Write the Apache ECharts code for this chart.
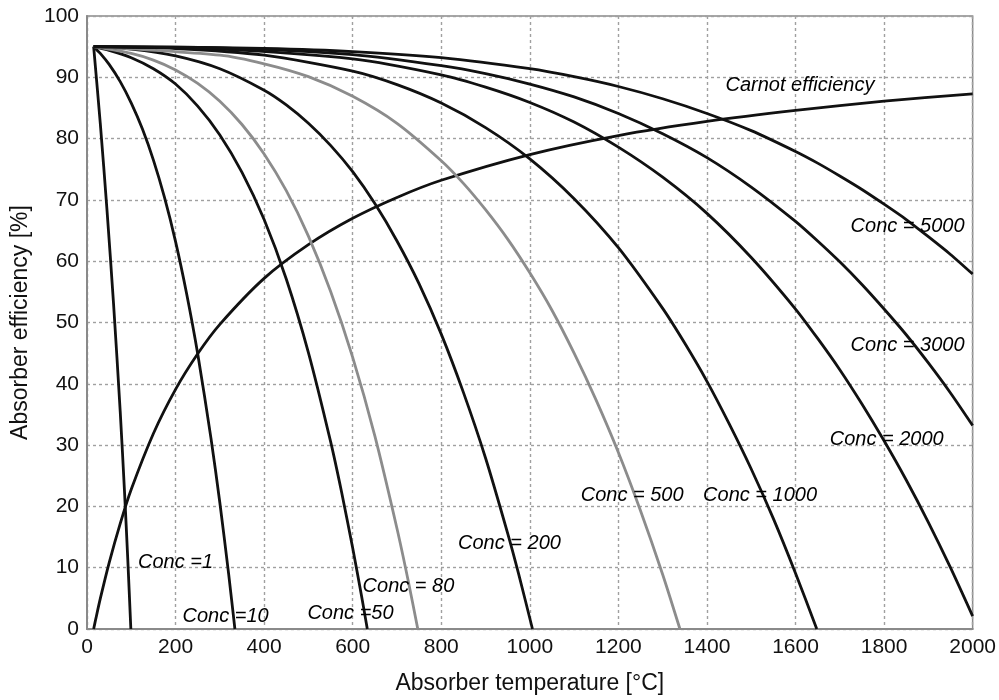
<!DOCTYPE html>
<html>
<head>
<meta charset="utf-8">
<script src="https://cdn.jsdelivr.net/npm/echarts@6/dist/echarts.min.js"></script>
<style>html,body{margin:0;padding:0;background:#fff;}#c{width:999px;height:700px;}</style>
</head>
<body>
<div id="c"></div>
<script>
// Absorber temperature [°C] vs efficiency [%]
const xTicks = [0, 200, 400, 600, 800, 1000, 1200, 1400, 1600, 1800, 2000];
const yTicks = [0, 10, 20, 30, 40, 50, 60, 70, 80, 90, 100];

const carnot = [[15,0],[20,1.7],[30,4.95],[50,10.8],[75,17.2],[100,22.8],[150,31.9],[200,39.1],[250,44.9],[300,49.7],[400,57.2],[500,62.7],[600,67.0],[700,70.4],[800,73.2],[1000,77.4],[1200,80.5],[1400,82.8],[1600,84.6],[1800,86.1],[2000,87.3]];
const conc1 = [[15,95],[30,82.5],[45,68.5],[60,53],[75,35.5],[85,22],[92,11.5],[99,0]];
const conc10 = [[15,95],[30,93.9],[50,92.1],[75,89.3],[100,85.8],[125,81.6],[150,76.5],[175,70.4],[200,63.2],[225,54.7],[250,44.9],[280,31.1],[300,20.6],[320,8.9],[334,0]];
const conc50 = [[15,95],[50,94.4],[100,93.2],[150,91.4],[200,88.9],[250,85.3],[300,80.6],[350,74.5],[400,66.8],[450,57.1],[500,45.1],[550,30.6],[575,22.3],[600,13.2],[620,5.4],[633,0]];
const conc80 = [[15,95],[100,93.9],[150,92.8],[200,91.2],[250,89.0],[300,86.1],[350,82.3],[400,77.5],[450,71.5],[500,64.1],[550,55.1],[600,44.3],[650,31.5],[700,16.4],[725,8.0],[747,0]];
const conc200 = [[15,95],[100,94.6],[200,93.5],[300,91.4],[400,87.9],[450,85.5],[500,82.5],[550,78.9],[600,74.6],[650,69.4],[700,63.3],[750,56.3],[800,48.1],[850,38.6],[900,27.9],[950,15.6],[975,8.9],[1006,0]];
const conc500 = [[15,95],[300,93.6],[400,92.2],[500,90.1],[600,86.9],[700,82.5],[800,76.4],[850,72.7],[900,68.4],[950,63.6],[1000,58.1],[1050,52.0],[1100,45.0],[1150,37.3],[1200,28.8],[1250,19.3],[1300,8.9],[1339,0]];
const conc1000 = [[15,95],[200,94.7],[400,93.6],[600,91.0],[700,88.8],[800,85.8],[900,81.8],[1000,76.7],[1100,70.2],[1200,62.2],[1300,52.3],[1350,46.6],[1400,40.4],[1450,33.5],[1500,26.1],[1550,18.0],[1600,9.1],[1648,0]];
const conc2000 = [[15,95],[300,94.6],[600,93.0],[800,90.4],[900,88.4],[1000,85.9],[1100,82.7],[1200,78.6],[1300,73.7],[1400,67.8],[1500,60.6],[1600,52.2],[1650,47.4],[1700,42.3],[1750,36.7],[1800,30.7],[1850,24.3],[1900,17.4],[1950,10.0],[2000,2.1]];
const conc3000 = [[15,95],[300,94.8],[600,93.7],[800,91.9],[900,90.6],[1000,88.9],[1100,86.8],[1200,84.1],[1300,80.8],[1400,76.9],[1500,72.1],[1600,66.5],[1650,63.3],[1700,59.9],[1750,56.2],[1800,52.2],[1850,48.0],[1900,43.4],[1950,38.5],[2000,33.2]];
const conc5000 = [[15,95],[200,94.9],[400,94.7],[600,94.2],[800,93.2],[1000,91.4],[1100,90.1],[1200,88.5],[1300,86.5],[1400,84.1],[1500,81.3],[1600,77.9],[1650,76.0],[1700,73.9],[1750,71.7],[1800,69.3],[1850,66.8],[1900,64.0],[1950,61.1],[2000,57.9]];

const annotationTexts = ['Carnot efficiency','Conc = 5000','Conc = 3000','Conc = 2000','Conc = 500','Conc = 1000','Conc = 200','Conc = 80','Conc =50','Conc =10','Conc =1'];
const annotationAt = [[1610,88.6],[1853,65.7],[1853,46.2],[1806,30.9],[1231,21.8],[1520,21.8],[954,14.0],[726,7.0],[595,2.6],[313,2.0],[200,10.9]];

const curves = [
  {name:'Carnot', data:carnot, color:'#111'},
  {name:'Conc 1', data:conc1, color:'#111'},
  {name:'Conc 10', data:conc10, color:'#111'},
  {name:'Conc 50', data:conc50, color:'#111'},
  {name:'Conc 80', data:conc80, color:'#8c8c8c'},
  {name:'Conc 200', data:conc200, color:'#111'},
  {name:'Conc 500', data:conc500, color:'#8c8c8c'},
  {name:'Conc 1000', data:conc1000, color:'#111'},
  {name:'Conc 2000', data:conc2000, color:'#111'},
  {name:'Conc 3000', data:conc3000, color:'#111'},
  {name:'Conc 5000', data:conc5000, color:'#111'}
];

const series = curves.map(c => ({
  name: c.name, type: 'line', data: c.data, showSymbol: false, symbol: 'none',
  smooth: 0.25, clip: true,
  lineStyle: {color: c.color, width: 2.8}, z: 3
}));

series.push({
  type: 'scatter', symbolSize: 0, z: 10,
  itemStyle: {opacity: 1},
  data: annotationAt.map((p, i) => ({value: p, label: {formatter: annotationTexts[i]}})),
  label: {show: true, position: 'inside', color: '#000', opacity: 1, fontStyle: 'italic',
          fontFamily: 'Liberation Sans, Arial, sans-serif', fontSize: 20}
});

const font = 'Liberation Sans, Arial, sans-serif';
const chart = echarts.init(document.getElementById('c'), null, {renderer: 'canvas'});
chart.setOption({
  animation: false,
  backgroundColor: '#fff',
  grid: {left: 87, right: 26, top: 16, bottom: 69, show: true, borderColor: '#8a8a8a', borderWidth: 1.5, containLabel: false},
  xAxis: {
    type: 'value', min: xTicks[0], max: xTicks[xTicks.length-1], interval: 200,
    name: 'Absorber temperature [°C]', nameLocation: 'middle', nameGap: 43,
    nameTextStyle: {fontFamily: font, fontSize: 23, color: '#111'},
    axisLine: {show: true, lineStyle: {color: '#8a8a8a', width: 2}},
    axisTick: {show: false},
    axisLabel: {fontFamily: font, fontSize: 21, color: '#111', margin: 8, formatter: v => String(v)},
    splitLine: {show: true, lineStyle: {color: '#a0a0a0', type: [3, 3], width: 1.4}}
  },
  yAxis: {
    type: 'value', min: yTicks[0], max: yTicks[yTicks.length-1], interval: 10,
    name: 'Absorber efficiency [%]', nameLocation: 'middle', nameGap: 55,
    nameTextStyle: {fontFamily: font, fontSize: 23, color: '#111'},
    axisLine: {show: true, lineStyle: {color: '#8a8a8a', width: 2}},
    axisTick: {show: false},
    axisLabel: {fontFamily: font, fontSize: 21, color: '#111', margin: 8, formatter: v => String(v)},
    splitLine: {show: true, lineStyle: {color: '#a0a0a0', type: [3, 3], width: 1.4}}
  },
  series: series
});
</script>
</body>
</html>
